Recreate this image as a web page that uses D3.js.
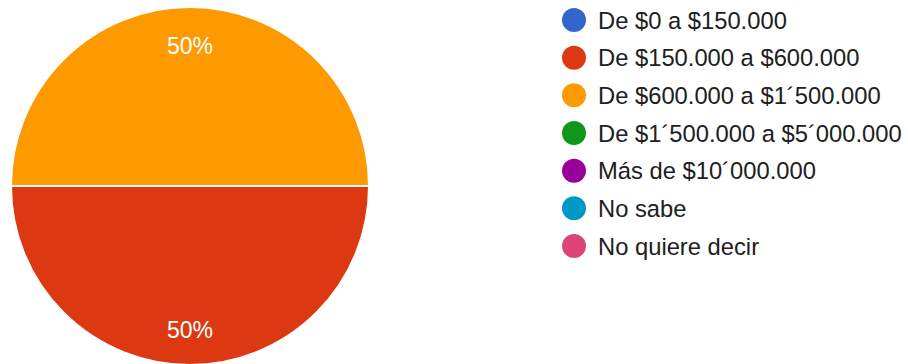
<!DOCTYPE html>
<html>
<head>
<meta charset="utf-8">
<script src="https://cdn.jsdelivr.net/npm/d3@7"></script>
<style>
  html, body { margin: 0; padding: 0; background: #fff; }
  svg { display: block; font-family: Arial, "Liberation Sans", sans-serif; }
</style>
</head>
<body>
<svg id="chart" width="908" height="364"></svg>
<script>
// Income brackets and share of responses
const categories = [
  "De $0 a $150.000",
  "De $150.000 a $600.000",
  "De $600.000 a $1´500.000",
  "De $1´500.000 a $5´000.000",
  "Más de $10´000.000",
  "No sabe",
  "No quiere decir"
];
const values = [0, 50, 50, 0, 0, 0, 0];
const colors = ["#3366cc", "#dc3912", "#ff9900", "#109618", "#990099", "#0099c6", "#dd4477"];

const svg = d3.select("#chart");
const cx = 190, cy = 186, radius = 179, labelRadius = 142;

const color = d3.scaleOrdinal().domain(categories).range(colors);

const pie = d3.pie()
  .value(d => d.value)
  .sort(null)
  .startAngle(Math.PI / 2)
  .endAngle(Math.PI / 2 + 2 * Math.PI);

const data = categories.map((c, i) => ({ name: c, value: values[i] }));
const arcs = pie(data).filter(d => d.data.value > 0);

const arc = d3.arc().innerRadius(0).outerRadius(radius);
const labelArc = d3.arc().innerRadius(labelRadius).outerRadius(labelRadius);

const g = svg.append("g").attr("transform", `translate(${cx},${cy})`);

g.selectAll("path.slice")
  .data(arcs)
  .join("path")
  .attr("class", "slice")
  .attr("d", arc)
  .attr("fill", d => color(d.data.name))
  .attr("stroke", "#fff")
  .attr("stroke-width", 2);

const total = d3.sum(values);
g.selectAll("text.pct")
  .data(arcs)
  .join("text")
  .attr("class", "pct")
  .attr("transform", d => `translate(${labelArc.centroid(d)})`)
  .attr("dy", 2)
  .attr("text-anchor", "middle")
  .attr("dominant-baseline", "central")
  .attr("fill", "#fff")
  .attr("font-size", 23)
  .text(d => `${Math.round(d.data.value / total * 100)}%`);

// Legend
const legendY = d3.scalePoint().domain(categories).range([20, 246]);
const legend = svg.append("g");
const items = legend.selectAll("g.item")
  .data(categories)
  .join("g")
  .attr("class", "item")
  .attr("transform", d => `translate(574,${legendY(d)})`);

items.append("circle")
  .attr("r", 12)
  .attr("fill", d => color(d));

items.append("text")
  .attr("x", 24)
  .attr("dominant-baseline", "central")
  .attr("font-size", 23.75)
  .attr("fill", "#202020")
  .text(d => d);
</script>
</body>
</html>
